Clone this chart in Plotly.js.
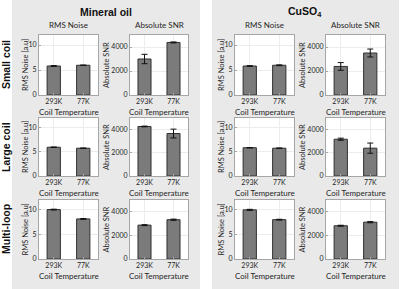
<!DOCTYPE html>
<html><head><meta charset="utf-8">
<script src="https://cdn.plot.ly/plotly-3.0.1.min.js"></script>
<style>html,body{margin:0;padding:0;background:#fff}#chart{width:400px;height:289px}</style>
</head><body><div id="chart"></div>
<script>
const tempLabels = ['293K', '77K'];
const coilNames = ['Small coil', 'Large coil', 'Multi-loop'];
const sampleNames = ['Mineral oil', 'CuSO<sub>4</sub>'];
const metricNames = ['RMS Noise', 'Absolute SNR'];
const metricAxisTitles = ['RMS Noise [a.u]', 'Absolute SNR'];
const xAxisTitle = 'Coil Temperature';

const oilRmsSmall = [5.8, 5.95],   oilRmsSmallErr = [0.08, 0.05];
const oilSnrSmall = [3000, 4380],  oilSnrSmallErr = [390, 40];
const oilRmsLarge = [5.95, 5.75],  oilRmsLargeErr = [0.05, 0.05];
const oilSnrLarge = [4270, 3660],  oilSnrLargeErr = [30, 380];
const oilRmsMulti = [10.05, 8.15], oilRmsMultiErr = [0.08, 0.08];
const oilSnrMulti = [2870, 3330],  oilSnrMultiErr = [40, 50];

const cuRmsSmall = [5.8, 5.95],    cuRmsSmallErr = [0.06, 0.08];
const cuSnrSmall = [2380, 3500],   cuSnrSmallErr = [320, 330];
const cuRmsLarge = [5.85, 5.75],   cuRmsLargeErr = [0.04, 0.04];
const cuSnrLarge = [3170, 2400],   cuSnrLargeErr = [90, 440];
const cuRmsMulti = [10.0, 8.0],    cuRmsMultiErr = [0.1, 0.08];
const cuSnrMulti = [2820, 3120],   cuSnrMultiErr = [40, 50];

const rmsRange = [0, 12], rmsDtick = 5;
const snrRange = [0, 5000], snrDtick = 2000;

// grid of panels: rows = coils, cols = [oil RMS, oil SNR, cu RMS, cu SNR]
const grid = [
  [[oilRmsSmall, oilRmsSmallErr], [oilSnrSmall, oilSnrSmallErr], [cuRmsSmall, cuRmsSmallErr], [cuSnrSmall, cuSnrSmallErr]],
  [[oilRmsLarge, oilRmsLargeErr], [oilSnrLarge, oilSnrLargeErr], [cuRmsLarge, cuRmsLargeErr], [cuSnrLarge, cuSnrLargeErr]],
  [[oilRmsMulti, oilRmsMultiErr], [oilSnrMulti, oilSnrMultiErr], [cuRmsMulti, cuRmsMultiErr], [cuSnrMulti, cuSnrMultiErr]]
];

const W = 400, H = 289;
const colX = [[39, 98], [130, 188], [235, 294], [326, 385]];
const rowY = [[35, 95], [118, 176], [200, 259]];
const px = v => v / W;
const py = v => 1 - v / H;

const FONT = 'Lato, "Open Sans", sans-serif';
const TXT = '#262626';
const traces = [];
const layout = {
  width: W, height: H, margin: {l: 0, r: 0, t: 0, b: 0},
  paper_bgcolor: '#ffffff', plot_bgcolor: 'rgba(0,0,0,0)',
  showlegend: false, bargap: 0.55,
  font: {family: FONT, size: 7, color: TXT},
  shapes: [], annotations: []
};

// gray panels
layout.shapes.push({type: 'rect', xref: 'paper', yref: 'paper', x0: px(12), x1: px(200), y0: 0, y1: 1, fillcolor: '#e9e9e9', line: {width: 0}, layer: 'below'});
layout.shapes.push({type: 'rect', xref: 'paper', yref: 'paper', x0: px(212), x1: px(399), y0: 0, y1: 1, fillcolor: '#e9e9e9', line: {width: 0}, layer: 'below'});

for (let r = 0; r < 3; r++) {
  for (let c = 0; c < 4; c++) {
    const idx = r * 4 + c + 1;
    const isRms = (c % 2 === 0);
    const [vals, errs] = grid[r][c];
    const xa = 'x' + (idx === 1 ? '' : idx), ya = 'y' + (idx === 1 ? '' : idx);
    traces.push({
      type: 'bar', x: tempLabels, y: vals, xaxis: xa, yaxis: ya, width: 0.45,
      marker: {color: '#7b7b7b', line: {color: '#303030', width: 1}},
      error_y: {type: 'data', array: errs, visible: true, color: '#111', thickness: 1, width: 3},
      hoverinfo: 'none'
    });
    const [x0, x1] = colX[c], [y0, y1] = rowY[r];
    layout.shapes.push({type: 'rect', xref: 'paper', yref: 'paper', x0: px(x0), x1: px(x1), y0: py(y1), y1: py(y0), fillcolor: '#ffffff', line: {width: 0}, layer: 'below'});
    const common = {
      showline: true, mirror: true, linecolor: '#a6a6a6', linewidth: 1,
      showgrid: true, gridcolor: '#ececec', gridwidth: 1, zeroline: false,
      ticks: 'inside', ticklen: 2, tickcolor: '#a6a6a6',
      tickfont: {family: FONT, size: 7, color: TXT}, fixedrange: true
    };
    layout['xaxis' + (idx === 1 ? '' : idx)] = Object.assign({}, common, {
      domain: [px(x0), px(x1)], anchor: ya, type: 'category', range: [-0.5, 1.5]
    });
    layout['yaxis' + (idx === 1 ? '' : idx)] = Object.assign({}, common, {
      domain: [py(y1), py(y0)], anchor: xa,
      range: isRms ? rmsRange : snrRange, dtick: isRms ? rmsDtick : snrDtick, tick0: 0
    });
    // y axis title
    layout.annotations.push({
      xref: 'paper', yref: 'paper', x: px(isRms ? x0 - 14 : x0 - 24), y: py((y0 + y1) / 2),
      text: metricAxisTitles[isRms ? 0 : 1], textangle: -90, showarrow: false,
      font: {family: FONT, size: 7.5, color: TXT}, xanchor: 'center', yanchor: 'middle'
    });
    // x axis title
    layout.annotations.push({
      xref: 'paper', yref: 'paper', x: px((x0 + x1) / 2), y: py(y1 + 17),
      text: xAxisTitle, showarrow: false,
      font: {family: FONT, size: 8, color: TXT}, xanchor: 'center', yanchor: 'middle'
    });
    if (r === 0) {
      layout.annotations.push({
        xref: 'paper', yref: 'paper', x: px((x0 + x1) / 2), y: py(25),
        text: metricNames[isRms ? 0 : 1], showarrow: false,
        font: {family: FONT, size: 8, color: TXT}, xanchor: 'center', yanchor: 'middle'
      });
    }
  }
}
// panel titles
[106, 305].forEach((cx, i) => layout.annotations.push({
  xref: 'paper', yref: 'paper', x: px(cx), y: py(12), text: '<b>' + sampleNames[i] + '</b>', showarrow: false,
  font: {family: '"Liberation Sans", Arial, sans-serif', size: 10.5, color: '#111'}, xanchor: 'center', yanchor: 'middle'
}));
// row labels
[65, 147, 229].forEach((cy, i) => layout.annotations.push({
  xref: 'paper', yref: 'paper', x: px(6), y: py(cy), text: '<b>' + coilNames[i] + '</b>', textangle: -90, showarrow: false,
  font: {family: '"Liberation Sans", Arial, sans-serif', size: 10.5, color: '#111'}, xanchor: 'center', yanchor: 'middle'
}));

Plotly.newPlot('chart', traces, layout, {staticPlot: true, displayModeBar: false});
</script></body></html>
